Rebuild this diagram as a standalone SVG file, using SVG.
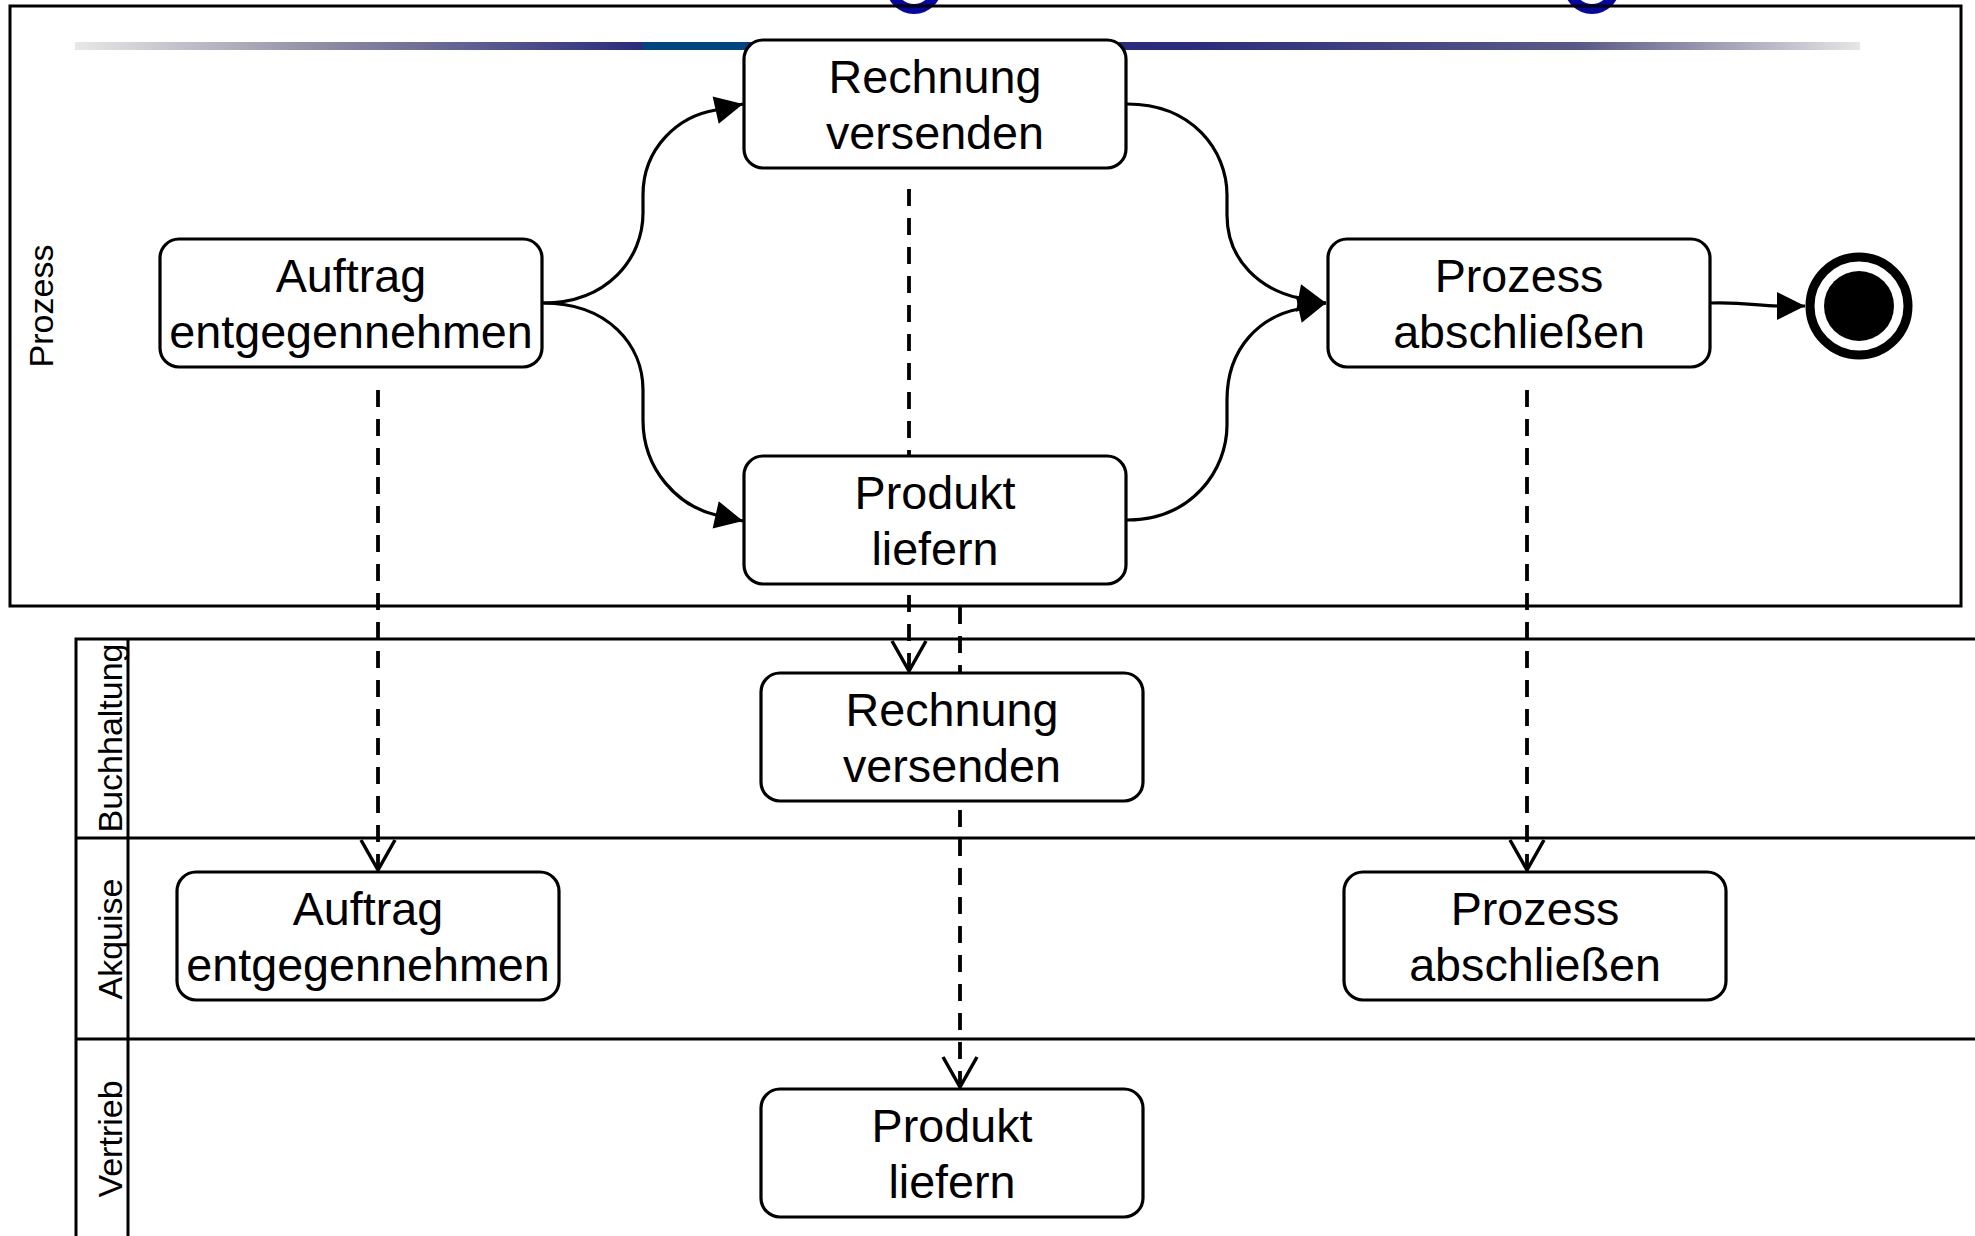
<svg xmlns="http://www.w3.org/2000/svg" width="1975" height="1236" viewBox="0 0 1975 1236">
  <style>
    .box { fill: #ffffff; stroke: #000000; stroke-width: 3.2; }
    .lbl { font-family: "Liberation Sans", Arial, sans-serif; font-size: 46.7px; fill: #000000; text-anchor: middle; }
    .lane-lbl { font-family: "Liberation Sans", Arial, sans-serif; font-size: 34px; fill: #000000; text-anchor: middle; }
    .border { fill: none; stroke: #000000; stroke-width: 3; }
    .flow { fill: none; stroke: #000000; stroke-width: 3.2; marker-end: url(#arrow); }
    .trace { fill: none; stroke: #000000; stroke-width: 3.8; stroke-dasharray: 17 12; marker-end: url(#open); }
  </style>
  <defs>
    <marker id="arrow" markerUnits="userSpaceOnUse" markerWidth="32" markerHeight="32" viewBox="0 0 32 32" refX="29" refY="15" orient="auto">
      <path d="M1,1 L29,15 L1,29 Z" fill="#000000"/>
    </marker>
    <marker id="open" markerUnits="userSpaceOnUse" markerWidth="36" markerHeight="40" viewBox="0 0 36 40" refX="32" refY="19" orient="auto">
      <path d="M2,2 L32,19 L2,36" fill="none" stroke="#000000" stroke-width="3.5"/>
    </marker>
    <linearGradient id="barLeft" x1="0" y1="0" x2="1" y2="0">
      <stop offset="0" stop-color="#e8e8e8"/>
      <stop offset="0.45" stop-color="#8a8aa2"/>
      <stop offset="1" stop-color="#2a2a7e"/>
    </linearGradient>
    <linearGradient id="barRight" x1="0" y1="0" x2="1" y2="0">
      <stop offset="0" stop-color="#26267e"/>
      <stop offset="0.4" stop-color="#2c2c7e"/>
      <stop offset="0.75" stop-color="#5a5a88"/>
      <stop offset="1" stop-color="#e6e6e6"/>
    </linearGradient>
  </defs>

  <rect width="1975" height="1236" fill="#ffffff"/>

  <!-- header decoration -->
  <g id="header">
    <circle cx="914" cy="-14" r="23" fill="none" stroke="#0606a0" stroke-width="10"/>
    <circle cx="1592" cy="-14" r="23" fill="none" stroke="#0606a0" stroke-width="10"/>
    <rect x="75" y="42" width="568" height="8" fill="url(#barLeft)"/>
    <rect x="643" y="42" width="104" height="8" fill="#00457f"/>
    <rect x="747" y="42" width="1113" height="8" fill="url(#barRight)"/>
  </g>

  <!-- process pool -->
  <g id="pool-prozess">
    <rect class="border" x="10" y="6" width="1951" height="600"/>
    <text class="lane-lbl" transform="translate(53,306) rotate(-90)">Prozess</text>
  </g>

  <!-- swimlanes -->
  <g id="pool-lanes">
    <path class="border" d="M1980,639 L76,639 L76,1240"/>
    <path class="border" d="M128,639 L128,1240" stroke-width="4"/>
    <path class="border" d="M76,838 L1980,838"/>
    <path class="border" d="M76,1039 L1980,1039"/>
    <text class="lane-lbl" transform="translate(122,738) rotate(-90)">Buchhaltung</text>
    <text class="lane-lbl" transform="translate(122,939) rotate(-90)">Akquise</text>
    <text class="lane-lbl" transform="translate(122,1139) rotate(-90)">Vertrieb</text>
  </g>

  <!-- connectors -->
  <g id="connectors">
    <path class="trace" d="M378,390 L378,870"/>
    <path class="trace" d="M909,189 L909,671"/>
    <path class="trace" d="M960,607 L960,1087"/>
    <path class="trace" d="M1527,390 L1527,870"/>

    <path class="flow" d="M543,303 C608,303 643,258 643,213 L643,195 C643,148 678,116 716,110 L743,104"/>
    <path class="flow" d="M543,303 C608,303 643,345 643,390 L643,420 C643,470 678,506 716,515 L743,521"/>
    <path class="flow" d="M1127,104 C1192,104 1227,150 1227,195 L1227,215 C1227,262 1262,290 1299,298 L1326,303"/>
    <path class="flow" d="M1127,520 C1192,520 1227,470 1227,425 L1227,400 C1227,346 1262,316 1299,309 L1326,303"/>
    <path class="flow" d="M1711,303 C1745,302 1758,306 1778,306 L1805,306"/>
  </g>

  <!-- activities in the process -->
  <g id="p-auftrag">
    <rect class="box" x="160" y="239" width="382" height="128" rx="19"/>
    <text class="lbl" x="351" y="292">Auftrag</text>
    <text class="lbl" x="351" y="348">entgegennehmen</text>
  </g>
  <g id="p-rechnung">
    <rect class="box" x="744" y="40" width="382" height="128" rx="19"/>
    <text class="lbl" x="935" y="93">Rechnung</text>
    <text class="lbl" x="935" y="149">versenden</text>
  </g>
  <g id="p-produkt">
    <rect class="box" x="744" y="456" width="382" height="128" rx="19"/>
    <text class="lbl" x="935" y="509">Produkt</text>
    <text class="lbl" x="935" y="565">liefern</text>
  </g>
  <g id="p-abschluss">
    <rect class="box" x="1328" y="239" width="382" height="128" rx="19"/>
    <text class="lbl" x="1519" y="292">Prozess</text>
    <text class="lbl" x="1519" y="348">abschließen</text>
  </g>
  <g id="p-ende">
    <circle cx="1859" cy="306" r="49" fill="#ffffff" stroke="#000000" stroke-width="9"/>
    <circle cx="1859" cy="306" r="35" fill="#000000"/>
  </g>

  <!-- activities in the lanes -->
  <g id="l-rechnung">
    <rect class="box" x="761" y="673" width="382" height="128" rx="19"/>
    <text class="lbl" x="952" y="726">Rechnung</text>
    <text class="lbl" x="952" y="782">versenden</text>
  </g>
  <g id="l-auftrag">
    <rect class="box" x="177" y="872" width="382" height="128" rx="19"/>
    <text class="lbl" x="368" y="925">Auftrag</text>
    <text class="lbl" x="368" y="981">entgegennehmen</text>
  </g>
  <g id="l-abschluss">
    <rect class="box" x="1344" y="872" width="382" height="128" rx="19"/>
    <text class="lbl" x="1535" y="925">Prozess</text>
    <text class="lbl" x="1535" y="981">abschließen</text>
  </g>
  <g id="l-produkt">
    <rect class="box" x="761" y="1089" width="382" height="128" rx="19"/>
    <text class="lbl" x="952" y="1142">Produkt</text>
    <text class="lbl" x="952" y="1198">liefern</text>
  </g>
</svg>
